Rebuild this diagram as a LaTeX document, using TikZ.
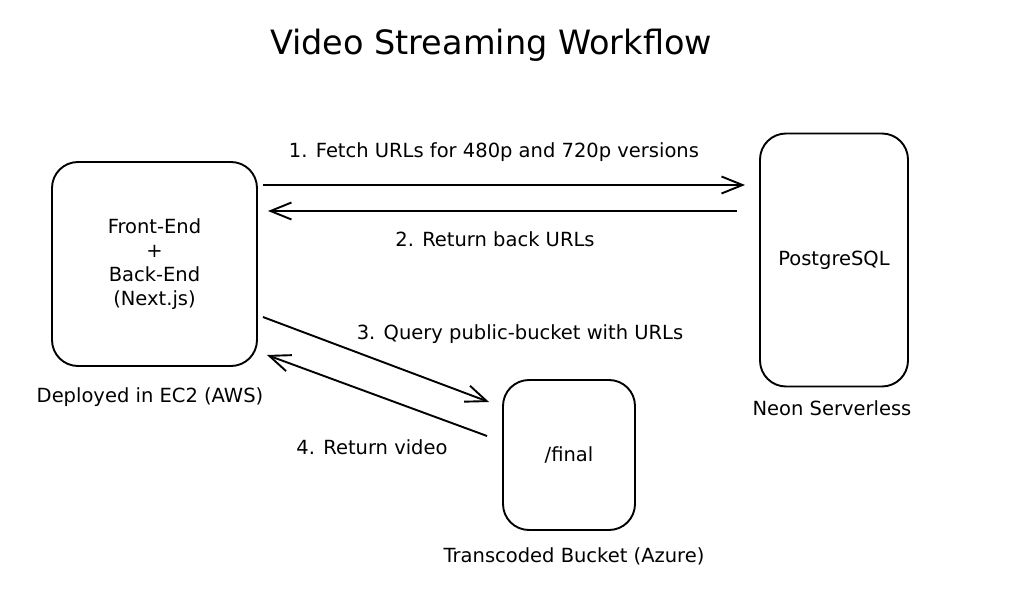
\documentclass[tikz,border=0pt]{standalone}
\usepackage{fontspec}
\setmainfont{DejaVu Sans}
\usetikzlibrary{arrows.meta, calc, positioning}

\begin{document}
\begin{tikzpicture}[x=1pt, y=-1pt,
    box/.style={draw, line width=1.9pt, rounded corners=26pt, inner sep=0pt,
      align=center, font=\fontsize{19.5}{24}\selectfont},
    lbl/.style={font=\fontsize{19.5}{22}\selectfont},
    flow/.style={line width=1.9pt,
      -{Straight Barb[length=21pt, width=17pt, line width=1.9pt]}}]
  \useasboundingbox (0,0) rectangle (1021,599);
  % title
  \node[font=\fontsize{33.5}{38}\selectfont] (title) at (491,45) {Video Streaming Workflow};
  % boxes
  \node[box, minimum width=205pt, minimum height=204pt] (app) at (154.5,264)
    {Front-End\\+\\Back-End\\(Next.js)};
  \node[box, minimum width=148pt, minimum height=253pt] (db) at (834,260) {PostgreSQL};
  \node[box, minimum width=132pt, minimum height=150pt] (bucket) at (569,455) {/final};
  % captions
  \node[lbl] (appcap) at (150,397) {Deployed in EC2 (AWS)};
  \node[lbl] (dbcap) at (832,408) {Neon Serverless};
  \node[lbl] (bucketcap) at (574,556) {Transcoded Bucket (Azure)};
  % arrows
  \draw[flow] ($(app.east)+(5,-79)$) -- ($(db.west)+(-14,-75)$);
  \draw[flow] ($(db.west)+(-22,-49)$) -- ($(app.east)+(10,-53)$);
  \draw[flow] ($(app.east)+(5,53)$) -- ($(bucket.west)+(-13,-53)$);
  \draw[flow] ($(bucket.west)+(-15,-19)$) -- ($(app.east)+(9,91)$);
  % arrow labels
  \node[lbl] (fetch) at (494,152) {1. Fetch URLs for 480p and 720p versions};
  \node[lbl] (urls) at (495,239) {2. Return back URLs};
  \node[lbl] (query) at (520,334) {3. Query public-bucket with URLs};
  \node[lbl] (video) at (372,447) {4. Return video};
\end{tikzpicture}
\end{document}
